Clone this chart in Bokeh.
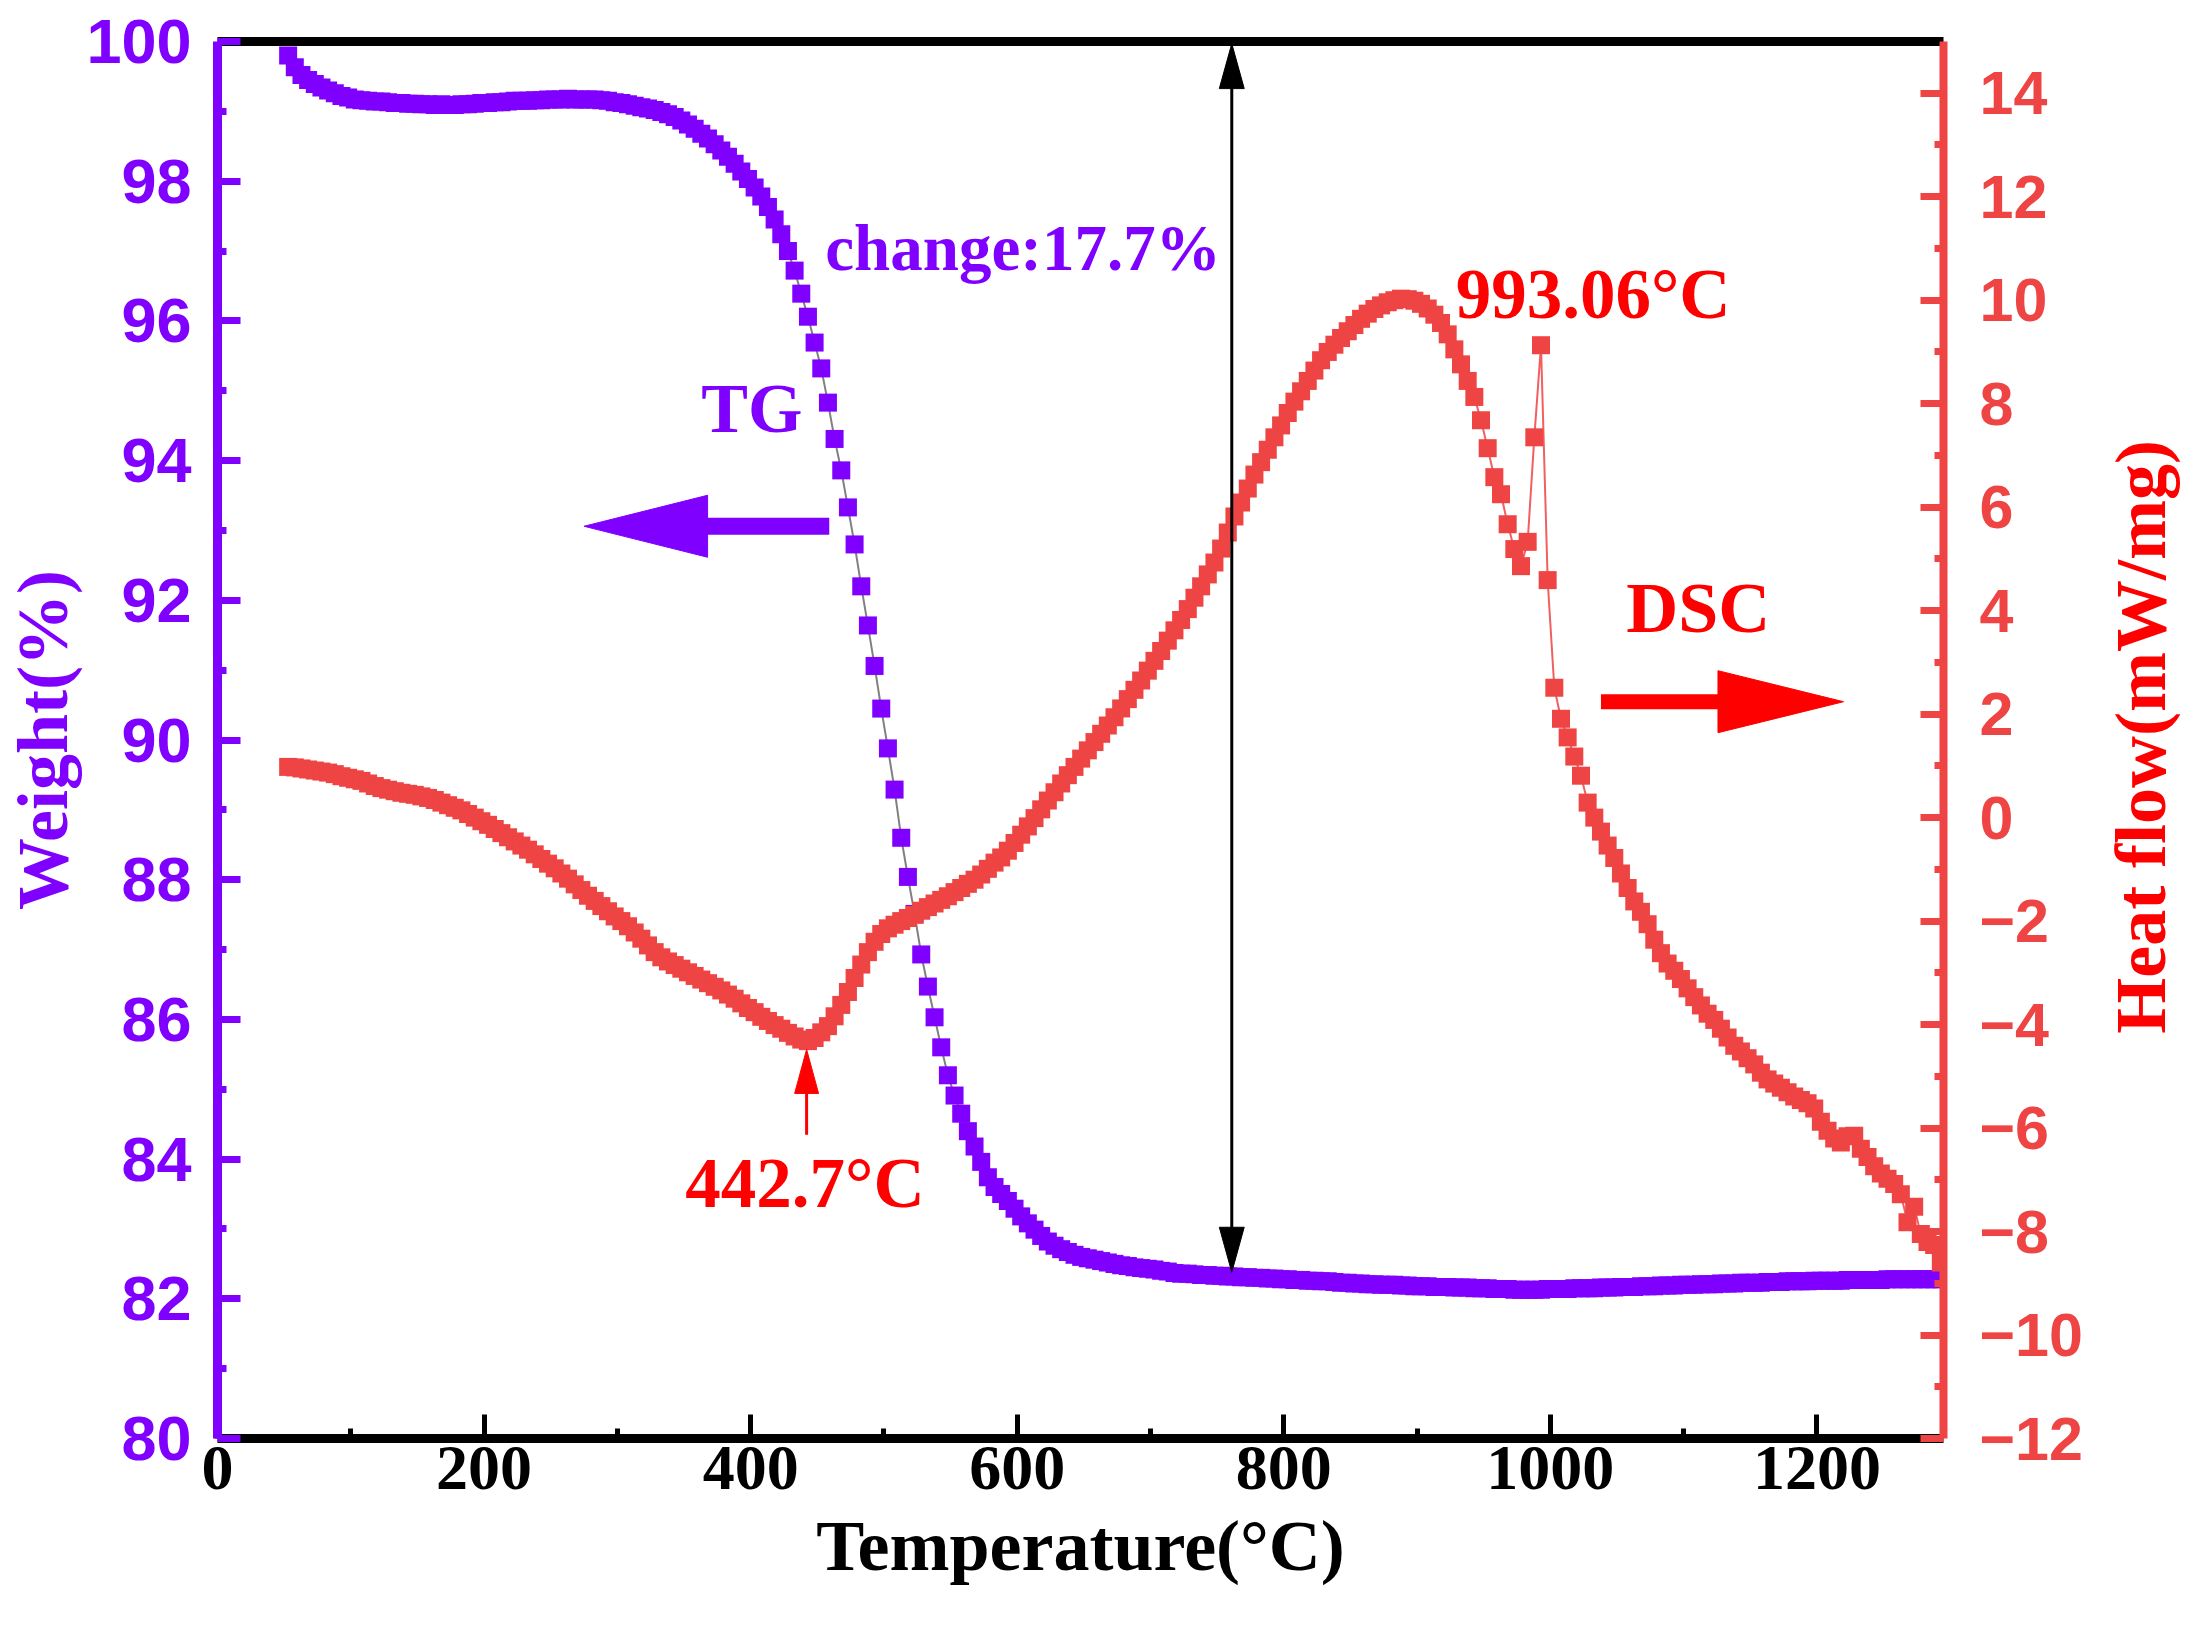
from bokeh.plotting import figure
from bokeh.layouts import row
from bokeh.models import ColumnDataSource, Range1d, LinearAxis, FixedTicker, Label, Div
from bokeh.embed import file_html
from bokeh.resources import INLINE

# sample temperatures (°C), one reading every 5 °C
temperature = [
    53, 58, 63, 68, 73, 78, 83, 88, 93, 98, 103, 108, 113, 118, 123, 128, 133, 138, 143, 148,
    153, 158, 163, 168, 173, 178, 183, 188, 193, 198, 203, 208, 213, 218, 223, 228, 233, 238, 243, 248,
    253, 258, 263, 268, 273, 278, 283, 288, 293, 298, 303, 308, 313, 318, 323, 328, 333, 338, 343, 348,
    353, 358, 363, 368, 373, 378, 383, 388, 393, 398, 403, 408, 413, 418, 423, 428, 433, 438, 443, 448,
    453, 458, 463, 468, 473, 478, 483, 488, 493, 498, 503, 508, 513, 518, 523, 528, 533, 538, 543, 548,
    553, 558, 563, 568, 573, 578, 583, 588, 593, 598, 603, 608, 613, 618, 623, 628, 633, 638, 643, 648,
    653, 658, 663, 668, 673, 678, 683, 688, 693, 698, 703, 708, 713, 718, 723, 728, 733, 738, 743, 748,
    753, 758, 763, 768, 773, 778, 783, 788, 793, 798, 803, 808, 813, 818, 823, 828, 833, 838, 843, 848,
    853, 858, 863, 868, 873, 878, 883, 888, 893, 898, 903, 908, 913, 918, 923, 928, 933, 938, 943, 948,
    953, 958, 963, 968, 973, 978, 983, 988, 993, 998, 1003, 1008, 1013, 1018, 1023, 1028, 1033, 1038, 1043, 1048,
    1053, 1058, 1063, 1068, 1073, 1078, 1083, 1088, 1093, 1098, 1103, 1108, 1113, 1118, 1123, 1128, 1133, 1138, 1143, 1148,
    1153, 1158, 1163, 1168, 1173, 1178, 1183, 1188, 1193, 1198, 1203, 1208, 1213, 1218, 1223, 1228, 1233, 1238, 1243, 1248,
    1253, 1258, 1263, 1268, 1273, 1278, 1283, 1288, 1293,
]

# TG: weight (%)
tg_weight = [
    99.80, 99.63, 99.52, 99.45, 99.39, 99.34, 99.30, 99.26, 99.22, 99.20, 99.17, 99.16, 99.15, 99.14, 99.14, 99.13, 99.12, 99.12, 99.11, 99.11,
    99.10, 99.10, 99.09, 99.10, 99.09, 99.09, 99.10, 99.10, 99.11, 99.12, 99.12, 99.13, 99.13, 99.14, 99.15, 99.15, 99.15, 99.16, 99.16, 99.17,
    99.17, 99.17, 99.18, 99.17, 99.17, 99.17, 99.17, 99.16, 99.15, 99.13, 99.12, 99.10, 99.08, 99.06, 99.04, 99.02, 98.99, 98.96, 98.92, 98.87,
    98.81, 98.75, 98.68, 98.61, 98.53, 98.44, 98.35, 98.25, 98.14, 98.03, 97.91, 97.78, 97.63, 97.45, 97.24, 97.00, 96.72, 96.39, 96.06, 95.69,
    95.32, 94.83, 94.31, 93.86, 93.33, 92.80, 92.20, 91.64, 91.06, 90.45, 89.88, 89.29, 88.60, 88.04, 87.51, 86.93, 86.47, 86.03, 85.60, 85.20,
    84.91, 84.65, 84.40, 84.18, 83.96, 83.74, 83.60, 83.50, 83.40, 83.29, 83.18, 83.08, 82.99, 82.90, 82.82, 82.76, 82.71, 82.67, 82.63, 82.60,
    82.58, 82.56, 82.54, 82.52, 82.50, 82.48, 82.47, 82.45, 82.44, 82.43, 82.42, 82.40, 82.39, 82.37, 82.36, 82.36, 82.35, 82.34, 82.34, 82.33,
    82.33, 82.32, 82.32, 82.31, 82.31, 82.30, 82.30, 82.29, 82.29, 82.28, 82.28, 82.27, 82.27, 82.26, 82.26, 82.25, 82.25, 82.24, 82.23, 82.23,
    82.22, 82.22, 82.21, 82.21, 82.20, 82.20, 82.20, 82.19, 82.19, 82.18, 82.18, 82.18, 82.17, 82.17, 82.17, 82.16, 82.16, 82.16, 82.15, 82.15,
    82.15, 82.14, 82.14, 82.14, 82.13, 82.13, 82.13, 82.13, 82.13, 82.14, 82.14, 82.14, 82.14, 82.15, 82.15, 82.15, 82.15, 82.16, 82.16, 82.16,
    82.17, 82.17, 82.17, 82.18, 82.18, 82.18, 82.19, 82.19, 82.19, 82.20, 82.20, 82.20, 82.21, 82.21, 82.21, 82.22, 82.22, 82.22, 82.23, 82.23,
    82.23, 82.23, 82.24, 82.24, 82.24, 82.25, 82.25, 82.25, 82.25, 82.26, 82.26, 82.26, 82.26, 82.26, 82.27, 82.27, 82.27, 82.27, 82.27, 82.27,
    82.28, 82.28, 82.28, 82.28, 82.28, 82.28, 82.28, 82.28, 82.28,
]

# DSC: heat flow (mW/mg)
dsc_heat = [
    0.98, 0.97, 0.95, 0.93, 0.91, 0.89, 0.87, 0.84, 0.80, 0.77, 0.74, 0.71, 0.66, 0.61, 0.57, 0.54, 0.51, 0.48, 0.46, 0.44,
    0.41, 0.38, 0.34, 0.29, 0.24, 0.19, 0.14, 0.07, 0.00, -0.07, -0.14, -0.22, -0.30, -0.38, -0.46, -0.54, -0.62, -0.71, -0.80, -0.89,
    -0.98, -1.08, -1.18, -1.29, -1.40, -1.51, -1.61, -1.71, -1.81, -1.91, -2.00, -2.10, -2.22, -2.34, -2.47, -2.60, -2.70, -2.78, -2.85, -2.92,
    -2.99, -3.06, -3.13, -3.20, -3.27, -3.34, -3.42, -3.50, -3.59, -3.68, -3.76, -3.85, -3.93, -4.01, -4.08, -4.16, -4.23, -4.29, -4.32, -4.26,
    -4.15, -4.03, -3.84, -3.62, -3.37, -3.10, -2.84, -2.60, -2.40, -2.25, -2.14, -2.07, -2.00, -1.94, -1.88, -1.80, -1.73, -1.66, -1.59, -1.52,
    -1.44, -1.36, -1.28, -1.20, -1.10, -0.99, -0.87, -0.77, -0.64, -0.49, -0.33, -0.17, -0.01, 0.16, 0.33, 0.49, 0.66, 0.82, 0.98, 1.14,
    1.30, 1.46, 1.62, 1.78, 1.94, 2.11, 2.29, 2.47, 2.65, 2.84, 3.03, 3.22, 3.42, 3.62, 3.82, 4.03, 4.25, 4.47, 4.70, 4.93,
    5.20, 5.51, 5.82, 6.09, 6.36, 6.63, 6.87, 7.11, 7.35, 7.58, 7.82, 8.04, 8.24, 8.44, 8.64, 8.84, 9.00, 9.14, 9.27, 9.40,
    9.52, 9.64, 9.74, 9.83, 9.90, 9.96, 10.00, 10.03, 10.02, 9.99, 9.93, 9.84, 9.72, 9.56, 9.34, 9.05, 8.76, 8.44, 8.13, 7.68,
    7.14, 6.58, 6.25, 5.67, 5.19, 4.86, 5.33, 7.35, 9.13, 4.59, 2.51, 1.91, 1.55, 1.18, 0.81, 0.29, 0.00, -0.27, -0.54, -0.78,
    -1.08, -1.36, -1.62, -1.82, -2.06, -2.36, -2.62, -2.82, -2.96, -3.12, -3.30, -3.47, -3.63, -3.79, -3.91, -4.08, -4.25, -4.41, -4.52, -4.65,
    -4.77, -4.93, -5.06, -5.14, -5.22, -5.31, -5.39, -5.46, -5.52, -5.62, -5.88, -6.05, -6.20, -6.28, -6.16, -6.15, -6.40, -6.56, -6.74, -6.88,
    -6.98, -7.08, -7.28, -7.82, -7.52, -8.05, -8.20, -8.26, -8.60,
]

x_ticks = [0, 200, 400, 600, 800, 1000, 1200]
x_minor = [100, 300, 500, 700, 900, 1100]
w_ticks = [80, 82, 84, 86, 88, 90, 92, 94, 96, 98, 100]
w_minor = [81, 83, 85, 87, 89, 91, 93, 95, 97, 99]
h_ticks = [-12, -10, -8, -6, -4, -2, 0, 2, 4, 6, 8, 10, 12, 14]
h_minor = [-11, -9, -7, -5, -3, -1, 1, 3, 5, 7, 9, 11, 13]
h_tick_labels = ["\u221212", "\u221210", "\u22128", "\u22126", "\u22124", "\u22122",
                 "0", "2", "4", "6", "8", "10", "12", "14"]

PURPLE = "#7F00FF"
DSC_RED = "#EE4444"
RED = "#FF0000"

X_MAX = 1295
FRAME_W, FRAME_H = 1732, 1397
PX_X = FRAME_W / X_MAX          # px per degree
PX_W = FRAME_H / 20             # px per weight %
PX_H = FRAME_H / 27             # px per mW/mg

p = figure(width=2092, height=1620, output_backend="svg", toolbar_location=None,
           x_range=Range1d(0, X_MAX), y_range=Range1d(80, 100),
           min_border_left=211, min_border_right=149, min_border_top=41, min_border_bottom=182)
p.extra_y_ranges = {"dsc": Range1d(-12, 15)}
p.xgrid.visible = False
p.ygrid.visible = False
p.outline_line_color = None

# bottom axis
xa = p.xaxis[0]
xa.ticker = FixedTicker(ticks=x_ticks, minor_ticks=x_minor)
xa.axis_line_color = "black"
xa.axis_line_width = 9
xa.major_tick_line_color = "black"
xa.major_tick_line_width = 5
xa.major_tick_in = 24
xa.major_tick_out = 0
xa.minor_tick_line_color = "black"
xa.minor_tick_line_width = 5
xa.minor_tick_in = 10
xa.minor_tick_out = 0
xa.major_label_text_font = "Liberation Serif"
xa.major_label_text_font_style = "bold"
xa.major_label_text_font_size = "64px"
xa.major_label_text_color = "black"
xa.major_label_standoff = 8
xa.axis_label = "Temperature(°C)"
xa.axis_label_text_font = "Liberation Serif"
xa.axis_label_text_font_style = "bold"
xa.axis_label_text_font_size = "72px"
xa.axis_label_text_color = "black"
xa.axis_label_standoff = 14

# left axis (weight)
ya = p.yaxis[0]
ya.ticker = FixedTicker(ticks=w_ticks, minor_ticks=w_minor)
ya.axis_line_color = PURPLE
ya.axis_line_width = 9
ya.major_tick_line_color = PURPLE
ya.major_tick_line_width = 7
ya.major_tick_in = 23
ya.major_tick_out = 0
ya.minor_tick_line_color = PURPLE
ya.minor_tick_line_width = 7
ya.minor_tick_in = 9
ya.minor_tick_out = 0
ya.major_label_text_font = "Liberation Sans"
ya.major_label_text_font_style = "bold"
ya.major_label_text_font_size = "63px"
ya.major_label_text_color = PURPLE
ya.major_label_standoff = 26
ya.axis_label = "Weight(%)"
ya.axis_label_text_font = "Liberation Serif"
ya.axis_label_text_font_style = "bold"
ya.axis_label_text_font_size = "72px"
ya.axis_label_text_color = PURPLE
ya.axis_label_standoff = 0

# right axis (heat flow); its title sits in a Div next to the figure
ra = LinearAxis(y_range_name="dsc", ticker=FixedTicker(ticks=h_ticks, minor_ticks=h_minor))
ra.major_label_overrides = dict(zip(h_ticks, h_tick_labels))
ra.axis_line_color = DSC_RED
ra.axis_line_width = 8
ra.major_tick_line_color = DSC_RED
ra.major_tick_line_width = 7
ra.major_tick_in = 23
ra.major_tick_out = 0
ra.minor_tick_line_color = DSC_RED
ra.minor_tick_line_width = 7
ra.minor_tick_in = 9
ra.minor_tick_out = 0
ra.major_label_text_font = "Liberation Sans"
ra.major_label_text_font_style = "bold"
ra.major_label_text_font_size = "61px"
ra.major_label_text_color = DSC_RED
ra.major_label_standoff = 36
p.add_layout(ra, "right")

# top frame line
ta = LinearAxis(ticker=FixedTicker(ticks=[]))
ta.axis_line_color = "black"
ta.axis_line_width = 9
ta.major_tick_line_color = None
ta.minor_tick_line_color = None
ta.major_label_text_font_size = "0px"
p.add_layout(ta, "above")

src = ColumnDataSource(dict(t=temperature, tg=tg_weight, dsc=dsc_heat))

p.line("t", "tg", source=src, line_color="#808080", line_width=2)
p.scatter("t", "tg", source=src, marker="square", size=18,
          fill_color=PURPLE, line_color=None)
p.line("t", "dsc", source=src, y_range_name="dsc", line_color="#F06060", line_width=2)
p.scatter("t", "dsc", source=src, y_range_name="dsc", marker="square", size=18,
          fill_color=DSC_RED, line_color=None)


def head(x, y, dx, dy, length, width, sy):
    # triangle for an arrow tip at (x, y) pointing along (dx, dy); length/width in px
    bx, by = x - dx * length / PX_X, y - dy * length / sy
    nx, ny = -dy * width / 2 / PX_X, dx * width / 2 / sy
    return [x, bx + nx, bx - nx], [y, by + ny, by - ny]


# black double arrow: total weight change
arrow_t = 761
top_w, bottom_w = 99.97, 82.38
p.segment(x0=[arrow_t], y0=[bottom_w + 0.3], x1=[arrow_t], y1=[top_w - 0.3],
          line_color="black", line_width=3)
hx1, hy1 = head(arrow_t, top_w, 0, 1, 45, 25, PX_W)
hx2, hy2 = head(arrow_t, bottom_w, 0, -1, 45, 25, PX_W)
p.patches(xs=[hx1, hx2], ys=[hy1, hy2], fill_color="black", line_color="black", line_width=1)

# purple arrow to the left axis
tg_arrow_w = 93.06
p.segment(x0=[459], y0=[tg_arrow_w], x1=[366], y1=[tg_arrow_w],
          line_color=PURPLE, line_width=17, line_cap="butt")
px_, py_ = head(275, tg_arrow_w, -1, 0, 124, 62, PX_W)
p.patch(px_, py_, fill_color=PURPLE, line_color=PURPLE, line_width=1)

# red arrow to the right axis
dsc_arrow_h = 2.24
p.segment(x0=[1038], y0=[dsc_arrow_h], x1=[1128], y1=[dsc_arrow_h], y_range_name="dsc",
          line_color=RED, line_width=15, line_cap="butt")
rx_, ry_ = head(1220, dsc_arrow_h, 1, 0, 126, 62, PX_H)
p.patch(rx_, ry_, y_range_name="dsc", fill_color=RED, line_color=RED, line_width=1)

# small red arrow at the endothermic minimum
p.segment(x0=[442], y0=[-6.13], x1=[442], y1=[-5.2], y_range_name="dsc",
          line_color=RED, line_width=3)
sx_, sy_ = head(442, -4.48, 0, 1, 44, 24, PX_H)
p.patch(sx_, sy_, y_range_name="dsc", fill_color=RED, line_color=RED, line_width=1)


def note(x, y, text, color, size, rng="default"):
    p.add_layout(Label(x=x, y=y, text=text, y_range_name=rng,
                       text_font="Liberation Serif", text_font_style="bold",
                       text_font_size=size, text_color=color,
                       text_align="left", text_baseline="alphabetic"))


note(456, 97.04, "change:17.7%", PURPLE, "65px")
note(363, 94.75, "TG", PURPLE, "70px")
note(1057, 4.06, "DSC", RED, "72px", "dsc")
note(929, 10.12, "993.06°C", RED, "71px", "dsc")
note(351, -7.07, "442.7°C", RED, "71px", "dsc")

# right-hand axis title, reading bottom to top like the left one
heat_title = Div(
    text=("<span style=\"display:inline-block; vertical-align:top; writing-mode:vertical-rl; "
          "transform:rotate(180deg); margin:440px 0 0 9px; font-family:'Liberation Serif'; "
          "font-weight:bold; font-size:72px; line-height:80px; color:#FF0000; "
          "white-space:nowrap;\">Heat flow(mW/mg)</span>"),
    width=96, height=1620, margin=0)

layout = row(p, heat_title, spacing=0)

open("out.html", "w").write(file_html(layout, INLINE))
